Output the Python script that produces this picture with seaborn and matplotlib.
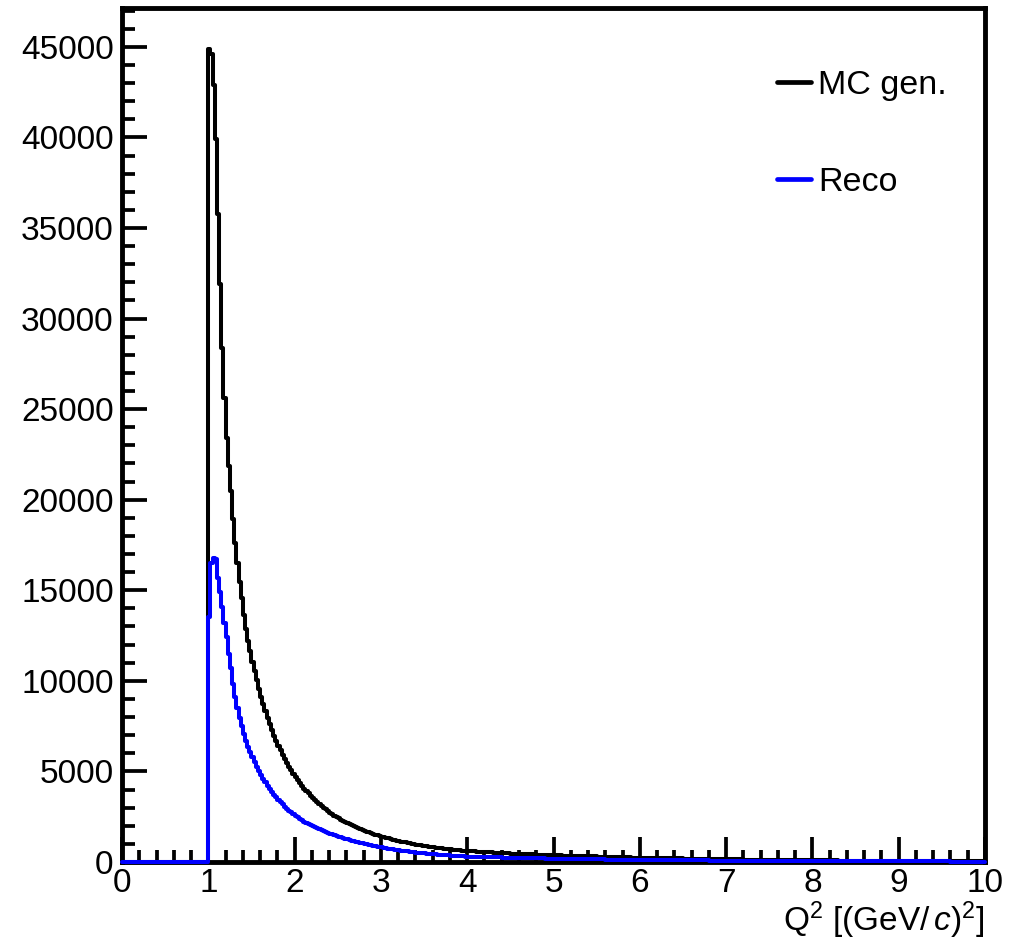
import numpy as np
import matplotlib
matplotlib.use("Agg")
import matplotlib.pyplot as plt
from matplotlib.ticker import MultipleLocator
import seaborn as sns

# Q^2 histogram contents, 0.025 (GeV/c)^2 bins from 1.0 to 4.0
mc_gen_fine = [
    44900, 44600, 42900, 39900, 35800, 31900, 28400, 25600, 23400, 21880,
    20460, 18950, 17600, 16500, 15450, 14550, 13650, 12870, 12220, 11620,
    11050, 10520, 10020, 9560, 9120, 8710, 8320, 7960, 7610, 7290,
    6980, 6690, 6420, 6160, 5920, 5690, 5470, 5260, 5060, 4870,
    4690, 4520, 4360, 4200, 4055, 3915, 3780, 3650, 3530, 3410,
    3300, 3195, 3090, 2995, 2900, 2810, 2720, 2640, 2560, 2485,
    2410, 2340, 2270, 2205, 2145, 2085, 2025, 1970, 1915, 1865,
    1815, 1765, 1720, 1675, 1630, 1590, 1550, 1510, 1470, 1435,
    1400, 1365, 1330, 1300, 1270, 1240, 1210, 1180, 1155, 1125,
    1100, 1075, 1050, 1030, 1005, 985, 960, 940, 920, 900,
    880, 865, 845, 830, 810, 795, 780, 760, 745, 730,
    720, 705, 690, 675, 665, 650, 640, 625, 615, 605,
]
reco_fine = [
    13500, 16500, 16800, 16700, 15700, 14900, 14100, 13200, 12400, 11500,
    10700, 9850, 9100, 8500, 7950, 7500, 7050, 6680, 6350, 6050,
    5770, 5500, 5250, 5020, 4800, 4600, 4400, 4220, 4040, 3880,
    3720, 3570, 3430, 3300, 3180, 3060, 2950, 2840, 2740, 2640,
    2550, 2470, 2390, 2310, 2230, 2160, 2090, 2030, 1970, 1920,
    1870, 1815, 1760, 1710, 1660, 1610, 1565, 1520, 1475, 1435,
    1395, 1355, 1315, 1280, 1245, 1210, 1175, 1145, 1110, 1080,
    1050, 1020, 995, 965, 940, 915, 890, 865, 840, 820,
    800, 775, 755, 735, 715, 700, 680, 660, 645, 625,
    610, 595, 580, 565, 550, 535, 520, 510, 495, 485,
    470, 460, 450, 440, 425, 415, 405, 395, 385, 375,
    370, 360, 350, 342, 335, 325, 318, 310, 303, 296,
]
# tail, 0.1 (GeV/c)^2 steps from 4.0 to 10.0
mc_gen_tail = [
    590, 560, 535, 510, 488, 466, 445, 425, 406, 388,
    370, 353, 337, 322, 307, 293, 280, 267, 255, 243,
    232, 221, 211, 201, 192, 183, 175, 167, 159, 152,
    145, 138, 132, 126, 120, 115, 110, 105, 100, 96,
    92, 88, 84, 80, 77, 74, 71, 68, 65, 62,
    60, 57, 55, 53, 51, 49, 47, 45, 43, 42,
]
reco_tail = [
    288, 275, 262, 250, 238, 227, 216, 206, 197, 188,
    179, 171, 163, 156, 149, 142, 136, 130, 124, 118,
    113, 108, 103, 98, 94, 90, 86, 82, 78, 75,
    72, 69, 66, 63, 60, 58, 55, 53, 51, 49,
    47, 45, 43, 41, 40, 38, 37, 35, 34, 32,
    31, 30, 29, 28, 27, 26, 25, 24, 23, 22,
]
series_labels = ["MC gen.", "Reco"]
series_colors = ["black", "#0000ff"]

# empty region below the Q^2 > 1 cut, then the fine and tail binning
edges = np.concatenate([[0.0],
                        np.linspace(1.0, 4.0, 121)[:-1],
                        np.linspace(4.0, 10.0, 61)])
centers = 0.5 * (edges[:-1] + edges[1:])
mc_gen = np.concatenate([[0.0], mc_gen_fine, mc_gen_tail])
reco = np.concatenate([[0.0], reco_fine, reco_tail])

sns.set_theme(style="white")
plt.rcParams["font.family"] = ["Liberation Sans", "DejaVu Sans"]
plt.rcParams["mathtext.fontset"] = "custom"
plt.rcParams["mathtext.rm"] = "Liberation Sans"
plt.rcParams["mathtext.it"] = "Liberation Sans:italic"
for key in ["axes.edgecolor", "text.color", "axes.labelcolor",
            "xtick.color", "ytick.color"]:
    plt.rcParams[key] = "black"

fig = plt.figure(figsize=(10.12, 9.44), dpi=100)
ax = fig.add_axes([0.1206, 0.0869, 0.8527, 0.9046])

for values, label, color in zip([mc_gen, reco], series_labels, series_colors):
    sns.histplot(x=centers, weights=values, bins=edges.tolist(),
                 element="step", fill=False, color=color, linewidth=2.9,
                 ax=ax, label=label, zorder=3, clip_on=False)

ax.set_xlim(0, 10)
ax.set_ylim(0, 47145)
ax.xaxis.set_major_locator(MultipleLocator(1))
ax.xaxis.set_minor_locator(MultipleLocator(0.2))
ax.yaxis.set_major_locator(MultipleLocator(5000))
ax.yaxis.set_minor_locator(MultipleLocator(1000))
ax.tick_params(axis="both", which="both", direction="in", colors="black",
               bottom=True, left=True, top=False, right=False, labelsize=24)
ax.tick_params(axis="x", which="major", length=18, width=2.7, pad=4)
ax.tick_params(axis="x", which="minor", length=9, width=2.7)
ax.tick_params(axis="y", which="major", length=18, width=2.7, pad=6)
ax.tick_params(axis="y", which="minor", length=9, width=2.7)
for side in ax.spines.values():
    side.set_linewidth(3.5)
    side.set_color("black")

ax.set_ylabel("")
ax.set_xlabel(r"Q$^{2}$ [(GeV/$\,c$)$^{2}$]", fontsize=24, loc="right",
              labelpad=1)

leg = ax.legend(loc="upper left", bbox_to_anchor=(777 / 1012, 1 - 70 / 944),
                bbox_transform=fig.transFigure, frameon=False, fontsize=24.5,
                handlelength=1.0, handletextpad=0.2, labelspacing=1.95,
                borderpad=0, borderaxespad=0)
for line in leg.get_lines():
    line.set_linewidth(3.4)

fig.savefig("out.png", dpi=100)
